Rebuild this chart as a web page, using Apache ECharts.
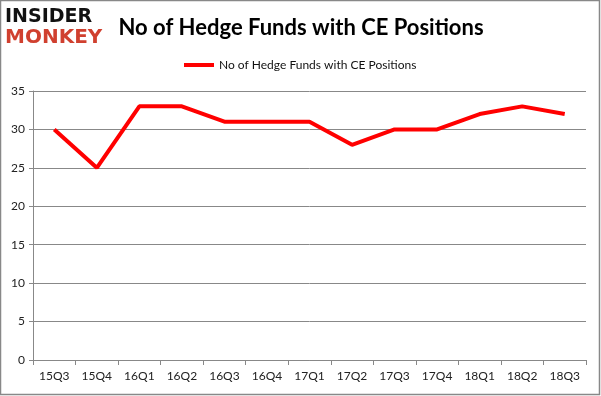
<!DOCTYPE html>
<html><head><meta charset="utf-8">
<script src="https://cdn.jsdelivr.net/npm/echarts@6/dist/echarts.min.js"></script>
<style>html,body{margin:0;padding:0;background:#fff}#c{width:601px;height:396px}</style>
</head><body><div id="c"></div>
<script>
const categories = ['15Q3','15Q4','16Q1','16Q2','16Q3','16Q4','17Q1','17Q2','17Q3','17Q4','18Q1','18Q2','18Q3'];
const seriesName = 'No of Hedge Funds with CE Positions';
const values = [30,25,33,33,31,31,31,28,30,30,32,33,32];
const titleText = 'No of Hedge Funds with CE Positions';
const logoTop = 'INSIDER';
const logoBottom = 'MONKEY';
const font = 'Lato, "Open Sans", sans-serif';
const chart = echarts.init(document.getElementById('c'));
chart.setOption({
  animation: false,
  backgroundColor: '#fff',
  title: { text: titleText, left: 296, textAlign: 'center', top: 12,
    textStyle: { fontFamily: font, fontSize: 22, fontWeight: 'bold', color: '#000' } },
  legend: { top: 54, left: 179, itemWidth: 30, itemHeight: 4, itemGap: 5,
    icon: 'rect',
    textStyle: { fontFamily: font, fontSize: 12, color: '#111' },
    data: [seriesName] },
  grid: { left: 33, right: 15, top: 91, bottom: 36, containLabel: false },
  xAxis: { type: 'category', data: categories, boundaryGap: true,
    axisLine: { lineStyle: { color: '#888', width: 1 } },
    axisTick: { show: true, length: 5, lineStyle: { color: '#888' } },
    axisLabel: { fontFamily: font, fontSize: 12, color: '#222', margin: 10 } },
  yAxis: { type: 'value', min: 0, max: 35, interval: 5,
    axisLine: { show: true, lineStyle: { color: '#888', width: 1 } },
    axisTick: { show: true, length: 4, lineStyle: { color: '#888' } },
    splitLine: { lineStyle: { color: '#888', width: 1 } },
    axisLabel: { fontFamily: font, fontSize: 12, color: '#222', margin: 8 } },
  series: [{ name: seriesName, type: 'line', data: values, symbol: 'none',
    lineStyle: { color: '#ff0000', width: 4 }, itemStyle: { color: '#ff0000' } }],
  graphic: [
    { type: 'rect', shape: { x: 0.5, y: 0.5, width: 599, height: 394 }, style: { fill: 'none', stroke: '#888', lineWidth: 1.5 }, z: -1 },
    { type: 'text', left: 5, top: 8, style: { text: logoTop, font: 'bold 19px "DejaVu Sans", sans-serif', fill: '#111' } },
    { type: 'text', left: 5, top: 28, style: { text: logoBottom, font: 'bold 20px "DejaVu Sans", sans-serif', fill: '#d0402f' } }
  ]
});
</script></body></html>
